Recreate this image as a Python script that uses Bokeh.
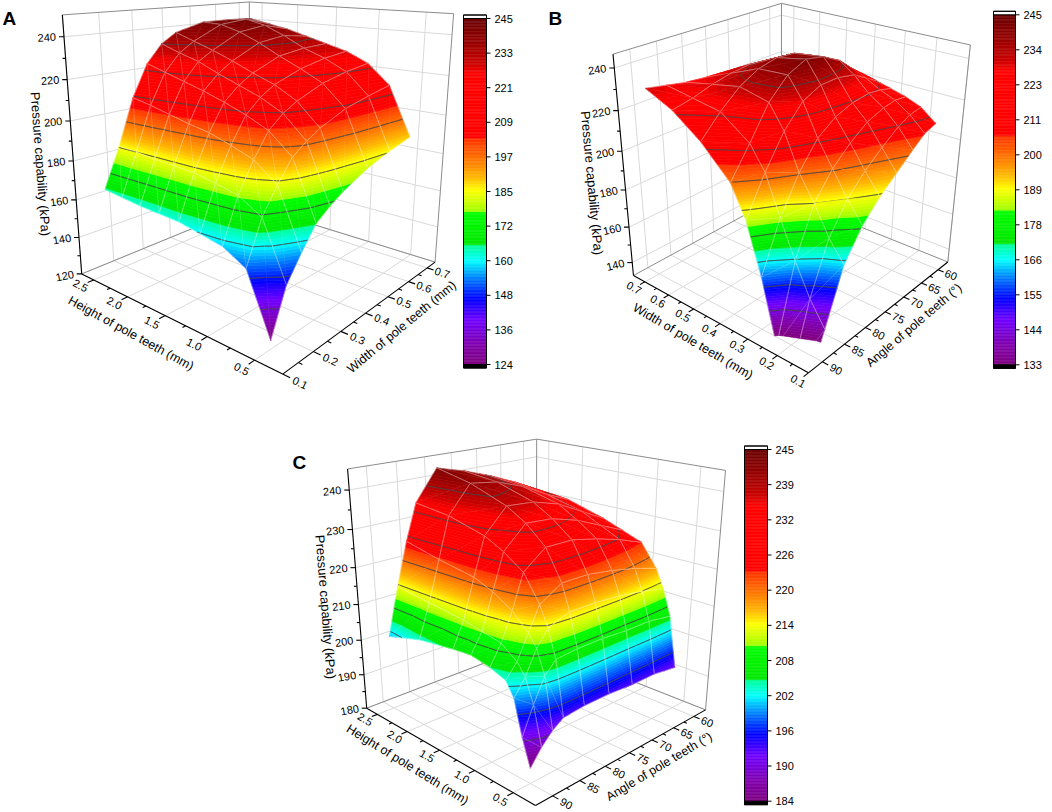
import math
import numpy as np
from bokeh.plotting import figure
from bokeh.models import Range1d, ColumnDataSource
from bokeh.core.properties import value
from bokeh.embed import file_html
from bokeh.resources import INLINE

# ======================= DATA =======================
# Panel A : pressure capability (kPa) vs height (columns) and width (rows)
A_height = [0.5, 0.75, 1.0, 1.25, 1.5, 1.75, 2.0, 2.25, 2.5]
A_width = [0.15, 0.2, 0.25, 0.3, 0.35, 0.4, 0.5, 0.6, 0.7]
A_pressure = [
    [124, 152, 158, 160, 162, 162.5, 163, 164, 165],
    [145, 171.5, 178, 180.5, 182.5, 183, 183.5, 184.5, 185],
    [156, 183, 191.5, 195.5, 199, 201, 203.5, 206, 208],
    [166, 193, 202.5, 207.5, 211.5, 215, 218, 221, 224],
    [171, 198, 208.5, 214, 218, 222, 226.5, 229.5, 233],
    [175, 202, 212.5, 218.5, 222.5, 227, 231, 234.5, 238],
    [181, 207.5, 218, 223.5, 228.5, 234, 238.5, 241.5, 242],
    [185, 210.5, 221, 226.5, 230.5, 236, 240.5, 243, 242],
    [188, 213, 223, 228, 231, 234, 237, 239, 241],
]

# Panel B : pressure capability vs width (rows) and angle (columns)
B_width = [0.15, 0.2, 0.25, 0.3, 0.35, 0.4, 0.5, 0.6, 0.7]
B_angle = [60, 63, 66, 70, 74, 78, 82, 86, 90]
B_pressure = [
    [209, 207, 202, 195, 188, 179, 165, 138, 112],
    [215, 214, 211, 205, 198, 189, 175, 150, 116],
    [218, 219, 218, 215, 209, 201, 189, 166, 128],
    [220, 222, 223, 222, 219, 213, 201, 184, 160],
    [222, 226, 230, 232, 232, 228, 218, 203, 185],
    [223, 229, 235, 240, 242, 238, 229, 214, 200],
    [222, 228, 234, 238, 239, 237, 232, 224, 214],
    [220, 224, 228, 231, 232, 231, 229, 226, 224],
    [218, 220, 222, 223, 224, 225, 226, 228, 230],
]

# Panel C : pressure capability vs height (rows) and angle (columns)
C_height = [0.5, 0.6, 0.7, 0.8, 1.0, 1.25, 1.5, 2.0, 2.5]
C_angle = [60, 65, 70, 75, 80, 84, 86, 88, 90]
C_pressure = [
    [192, 193, 193, 193.5, 193.5, 193, 191, 188, 184],
    [206, 207, 207, 207.5, 207.5, 207, 204, 198, 191],
    [213, 214.5, 215.5, 216, 216, 214, 210, 204, 200],
    [218, 220, 221.5, 222.5, 222.5, 219, 213, 207, 203.5],
    [224, 226.5, 228.5, 230, 230, 225.5, 217, 210, 205],
    [226, 229, 232, 234, 234.5, 229, 220, 211, 206],
    [228, 231.5, 235, 237, 237.5, 231.5, 222, 212, 205.5],
    [231, 234, 237.5, 240, 241, 234, 223.5, 213, 204],
    [232, 235.5, 238.5, 241, 243, 235, 225.5, 214, 201],
]

# colour scales and tick labels
A_color_range = [124, 245]
B_color_range = [133, 245]
C_color_range = [184, 245]
A_cbar_labels = ["124", "136", "148", "160", "172", "185", "197", "209", "221", "233", "245"]
B_cbar_labels = ["133", "144", "155", "166", "178", "189", "200", "211", "223", "234", "245"]
C_cbar_labels = ["184", "190", "196", "202", "208", "214", "220", "226", "232", "239", "245"]

height_ticks = [0.5, 1.0, 1.5, 2.0, 2.5]
height_tick_labels = ["0.5", "1.0", "1.5", "2.0", "2.5"]
width_ticks = [0.1, 0.2, 0.3, 0.4, 0.5, 0.6, 0.7]
width_tick_labels = ["0.1", "0.2", "0.3", "0.4", "0.5", "0.6", "0.7"]
angle_ticks = [60, 65, 70, 75, 80, 85, 90]
angle_tick_labels = ["60", "65", "70", "75", "80", "85", "90"]
A_z_ticks = [120, 140, 160, 180, 200, 220, 240]
B_z_ticks = [140, 160, 180, 200, 220, 240]
C_z_ticks = [180, 190, 200, 210, 220, 230, 240]

# ======================= STYLE =======================
FONT = "Liberation Sans"
CM_POS = [0.0, 0.06, 0.13, 0.19, 0.25, 0.30, 0.345, 0.345, 0.44, 0.44, 0.47, 0.505,
          0.54, 0.585, 0.655, 0.655, 0.84, 0.87, 0.93, 1.0]
CM_COL = ["#7f007f", "#8000b0", "#7000ff", "#0000ff", "#0080ff", "#00ffff", "#00ff99",
          "#00e600", "#00ff00", "#99ff00", "#ccff00", "#ffff00", "#ffbb00", "#ff8000",
          "#ff3300", "#ff0000", "#ff0000", "#cc0000", "#990000", "#6b0000"]


def _rgb(h):
    h = h.lstrip("#")
    return tuple(int(h[i:i + 2], 16) for i in (0, 2, 4))


def cmap_hex(f):
    f = min(max(f, 0.0), 1.0)
    for i in range(len(CM_POS) - 1):
        a, b = CM_POS[i], CM_POS[i + 1]
        if b > a and a <= f <= b:
            t = (f - a) / (b - a)
            ca, cb = _rgb(CM_COL[i]), _rgb(CM_COL[i + 1])
            c = [int(round(ca[k] + t * (cb[k] - ca[k]))) for k in range(3)]
            return "#%02x%02x%02x" % tuple(c)
    return CM_COL[-1]


F_EDGES = sorted(set([round(float(v), 6) for v in np.linspace(0, 1, 101)] + [0.345, 0.44, 0.655]))


def dlt(corners):
    P3 = np.array([[0, 0, 0], [1, 0, 0], [0, 1, 0], [1, 1, 0], [1, 0, 1], [0, 1, 1], [1, 1, 1]], float)
    P2 = np.array(corners, float)
    m = P2.mean(0)
    s = math.sqrt(2) / np.mean(np.linalg.norm(P2 - m, axis=1))
    T = np.array([[s, 0, -s * m[0]], [0, s, -s * m[1]], [0, 0, 1]])
    q = (np.c_[P2, np.ones(len(P2))] @ T.T)[:, :2]
    rows = []
    for (X, Y, Z), (u, v) in zip(P3, q):
        rows.append([X, Y, Z, 1, 0, 0, 0, 0, -u * X, -u * Y, -u * Z, -u])
        rows.append([0, 0, 0, 0, X, Y, Z, 1, -v * X, -v * Y, -v * Z, -v])
    _, _, Vt = np.linalg.svd(np.array(rows))
    P = np.linalg.inv(T) @ Vt[-1].reshape(3, 4)
    if P[2] @ np.array([0, 0, 0, 1.0]) < 0:
        P = -P
    return P


def clip_poly(poly, val, above):
    out = []
    n = len(poly)
    for i in range(n):
        a = poly[i]
        b = poly[(i + 1) % n]
        ia = (a[3] >= val) if above else (a[3] <= val)
        ib = (b[3] >= val) if above else (b[3] <= val)
        if ia:
            out.append(a)
        if ia != ib:
            t = (val - a[3]) / (b[3] - a[3])
            out.append(a + t * (b - a))
    return out


def ang(a, b):
    return math.atan2(b[1] - a[1], b[0] - a[0])


PW, PH = 1052, 812
p = figure(width=PW, height=PH, x_range=Range1d(0, PW), y_range=Range1d(-PH, 0),
           output_backend="svg", toolbar_location=None, min_border=0,
           x_axis_location=None, y_axis_location=None)
p.outline_line_color = None
p.background_fill_color = "white"
p.xgrid.grid_line_color = None
p.ygrid.grid_line_color = None

TXT = {"tick": [], "ztick": [], "title": [], "ztitle": [], "cb": [], "letter": []}


def add_text(kind, x, y, text, angle=0.0, align="center", baseline="middle"):
    if kind in ("tick", "title"):
        y = max(y, -(PH - 7))
    TXT[kind].append((x, y, text, angle, align, baseline))


def draw_panel(cfg):
    P = dlt(cfg["corners"])
    x0, x1 = cfg["xr"]
    y0, y1 = cfg["yr"]
    z0, z1 = cfg["zr"]

    def nx(v):
        return (v - x0) / (x1 - x0)

    def ny(v):
        return (v - y0) / (y1 - y0)

    def nz(v):
        return (v - z0) / (z1 - z0)

    def S(X, Y, Z):
        h = P @ np.array([X, Y, Z, 1.0])
        return (h[0] / h[2], -h[1] / h[2])

    def W(X, Y, Z):
        return (P @ np.array([X, Y, Z, 1.0]))[2]

    sgn = 1.0 if W(1, 1, 0) > W(0, 0, 0) else -1.0

    def seg3(a, b, lx, ly):
        pa, pb = S(*a), S(*b)
        lx.append([pa[0], pb[0]])
        ly.append([pa[1], pb[1]])

    # ---- back walls & floor grids ----
    gx, gy = [], []
    for t in cfg["xt"]:
        X = nx(t)
        if 0 <= X <= 1:
            seg3((X, 0, 0), (X, 1, 0), gx, gy)
            seg3((X, 1, 0), (X, 1, 1), gx, gy)
    for t in cfg["yt"]:
        Y = ny(t)
        if 0 <= Y <= 1:
            seg3((0, Y, 0), (1, Y, 0), gx, gy)
            seg3((1, Y, 0), (1, Y, 1), gx, gy)
    for t in cfg["zt"]:
        Z = nz(t)
        if 0 <= Z <= 1:
            seg3((1, 0, Z), (1, 1, Z), gx, gy)
            seg3((0, 1, Z), (1, 1, Z), gx, gy)
    p.multi_line(gx, gy, line_color="#d9d9d9", line_width=1)
    bx, by = [], []
    for a, b in [((1, 0, 1), (1, 1, 1)), ((1, 1, 1), (0, 1, 1)), ((1, 1, 0), (1, 1, 1)),
                 ((0, 1, 0), (0, 1, 1)), ((1, 0, 0), (1, 1, 0)), ((1, 1, 0), (0, 1, 0))]:
        seg3(a, b, bx, by)
    p.multi_line(bx, by, line_color="#8c8c8c", line_width=1)

    # ---- surface ----
    Xg, Yg, Zg = cfg["X"], cfg["Y"], cfg["Z"]
    nr, nc = len(Zg), len(Zg[0])
    V = [[np.array([nx(Xg[r][c]), ny(Yg[r][c]), nz(Zg[r][c]), float(Zg[r][c])])
          for c in range(nc)] for r in range(nr)]
    tris = []
    for r in range(nr - 1):
        for c in range(nc - 1):
            a, b, cc, d = V[r][c], V[r + 1][c], V[r + 1][c + 1], V[r][c + 1]
            tris.append(((a, b, cc), [(a, b), (b, cc), (a, cc)]))
            tris.append(((a, cc, d), [(cc, d), (d, a)]))

    def depth(t):
        cen = (t[0][0] + t[0][1] + t[0][2]) / 3.0
        return sgn * W(cen[0], cen[1], cen[2])

    tris.sort(key=lambda t: -depth(t))
    c0, c1 = cfg["crange"]
    bands = []
    for i in range(len(F_EDGES) - 1):
        bands.append((c0 + F_EDGES[i] * (c1 - c0), c0 + F_EDGES[i + 1] * (c1 - c0),
                      cmap_hex(0.5 * (F_EDGES[i] + F_EDGES[i + 1]))))
    if z0 < c0:
        bands.insert(0, (z0, c0, cmap_hex(0.0)))
    if z1 > c1:
        bands.append((c1, z1, cmap_hex(1.0)))
    bands = [(max(lo, z0), hi, col) for lo, hi, col in bands if hi > z0]
    # contour levels (tiny offset so that a level never sits exactly on a vertex)
    levels = [c0 + k * (c1 - c0) / 10.0 + 1e-6 for k in range(1, 10)]

    D = {"xs": [], "ys": [], "fc": [], "fa": [], "lc": [], "la": [], "lw": []}

    def add(pts, fc, fa, lc, la, lw):
        D["xs"].append([q[0] for q in pts])
        D["ys"].append([q[1] for q in pts])
        D["fc"].append(fc)
        D["fa"].append(fa)
        D["lc"].append(lc)
        D["la"].append(la)
        D["lw"].append(lw)

    for tri, medges in tris:
        zs = [v[3] for v in tri]
        tmin, tmax = min(zs), max(zs)
        for lo, hi, col in bands:
            if hi <= tmin or lo >= tmax:
                continue
            poly = list(tri)
            if lo > tmin:
                poly = clip_poly(poly, lo, True)
            if len(poly) >= 3 and hi < tmax:
                poly = clip_poly(poly, hi, False)
            if len(poly) < 3:
                continue
            add([S(v[0], v[1], v[2]) for v in poly], col, 1.0, col, 1.0, 0.6)
        for L in levels:
            if L < z0 or L <= tmin or L >= tmax:
                continue
            pts = []
            for i in range(3):
                a, b = tri[i], tri[(i + 1) % 3]
                if (a[3] - L) * (b[3] - L) < 0:
                    t = (L - a[3]) / (b[3] - a[3])
                    qv = a + t * (b - a)
                    pts.append(S(qv[0], qv[1], qv[2]))
            if len(pts) == 2:
                add(pts, "#000000", 0.0, "#444444", 0.65, 0.9)
        for k, (a, b) in enumerate(medges):
            if a[3] < z0 and b[3] < z0:
                continue
            if a[3] < z0 or b[3] < z0:
                t = (z0 - a[3]) / (b[3] - a[3])
                qv = a + t * (b - a)
                if a[3] < z0:
                    a = qv
                else:
                    b = qv
            alpha = 0.28 if k < 2 else 0.14
            add([S(a[0], a[1], a[2]), S(b[0], b[1], b[2])], "#000000", 0.0, "#ffffff", alpha, 0.7)

    p.patches(xs="xs", ys="ys", fill_color="fc", fill_alpha="fa", line_color="lc",
              line_alpha="la", line_width="lw", source=ColumnDataSource(D))

    # ---- axes ----
    ax, ay = [], []
    seg3((0, 0, 0), (1, 0, 0), ax, ay)
    seg3((0, 0, 0), (0, 1, 0), ax, ay)
    seg3((1, 0, 0), (1, 0, 1), ax, ay)
    xt, yt, zt = cfg["xt"], cfg["yt"], cfg["zt"]
    for i, t in enumerate(xt):
        X = nx(t)
        if 0 <= X <= 1:
            seg3((X, 0, 0), (X, -0.028, 0), ax, ay)
        if i + 1 < len(xt):
            Xm = nx(0.5 * (t + xt[i + 1]))
            seg3((Xm, 0, 0), (Xm, -0.015, 0), ax, ay)
    for i, t in enumerate(yt):
        Y = ny(t)
        if 0 <= Y <= 1:
            seg3((0, Y, 0), (-0.028, Y, 0), ax, ay)
        if i + 1 < len(yt):
            Ym = ny(0.5 * (t + yt[i + 1]))
            seg3((0, Ym, 0), (-0.015, Ym, 0), ax, ay)
    for i, t in enumerate(zt):
        q = S(1, 0, nz(t))
        ax.append([q[0] - 5, q[0]])
        ay.append([q[1], q[1]])
        if i + 1 < len(zt):
            q = S(1, 0, nz(0.5 * (t + zt[i + 1])))
            ax.append([q[0] - 3, q[0]])
            ay.append([q[1], q[1]])
    p.multi_line(ax, ay, line_color="black", line_width=1.1)

    # ---- labels ----
    for t, lab in zip(xt, cfg["xtl"]):
        X = nx(t)
        pos = S(X, -0.06, 0)
        a = ang(S(X + 0.05, -0.06, 0), S(X - 0.05, -0.06, 0))
        add_text("tick", pos[0], pos[1], lab, a)
    for t, lab in zip(yt, cfg["ytl"]):
        Y = ny(t)
        pos = S(-0.065, Y, 0)
        a = ang(S(-0.015, Y, 0), S(-0.115, Y, 0))
        add_text("tick", pos[0], pos[1], lab, a)
    for t in zt:
        Z = nz(t)
        q = S(1, 0, Z)
        a = 0.5 * ang(q, S(1, 0.1, Z))
        add_text("ztick", q[0] - 8, q[1], str(t), a, "right")
    Xm = nx(sum(xt) / len(xt))
    pos = S(Xm, -0.15, 0)
    add_text("title", pos[0], pos[1], cfg["xtitle"], ang(S(Xm + 0.05, -0.15, 0), S(Xm - 0.05, -0.15, 0)))
    Ym = ny(sum(yt) / len(yt))
    pos = S(-0.14, Ym, 0)
    add_text("title", pos[0], pos[1], cfg["ytitle"], ang(S(-0.14, Ym - 0.05, 0), S(-0.14, Ym + 0.05, 0)))
    mid = S(1, 0, 0.45)
    add_text("ztitle", mid[0] - 33, mid[1], "Pressure capability (kPa)", ang(S(1, 0, 1), S(1, 0, 0)))

    # ---- colour bar ----
    bxl, bxr, ytop, ybot = cfg["cbar"]
    nb = 240
    qb = {"l": [], "r": [], "t": [], "b": [], "c": []}
    for i in range(nb):
        f0, f1 = i / nb, (i + 1) / nb
        qb["l"].append(bxl)
        qb["r"].append(bxr)
        qb["b"].append(-(ybot - f0 * (ybot - ytop)))
        qb["t"].append(-(ybot - f1 * (ybot - ytop)))
        qb["c"].append(cmap_hex(0.5 * (f0 + f1)))
    p.quad(left=qb["l"], right=qb["r"], top=qb["t"], bottom=qb["b"], fill_color=qb["c"],
           line_color=qb["c"], line_width=0.5)
    cap = 3.5
    p.quad(left=[bxl], right=[bxr], top=[-(ytop - cap)], bottom=[-ytop], fill_color="white",
           line_color="black", line_width=1)
    p.quad(left=[bxl], right=[bxr], top=[-ybot], bottom=[-(ybot + cap)], fill_color="black",
           line_color="black", line_width=1)
    p.quad(left=[bxl], right=[bxr], top=[-(ytop - cap)], bottom=[-(ybot + cap)], fill_alpha=0,
           line_color="black", line_width=1)
    tx, ty = [], []
    for k, lab in enumerate(cfg["cbl"]):
        yy = ybot - k / 10.0 * (ybot - ytop)
        tx.append([bxr, bxr + 4])
        ty.append([-yy, -yy])
        add_text("cb", bxr + 8, -yy, lab, 0.0, "left")
    p.multi_line(tx, ty, line_color="black", line_width=1)
    lx, ly, lt = cfg["letter"]
    add_text("letter", lx, -ly, lt, 0.0, "left", "alphabetic")


def grid_rows(rows, cols, row_is_x):
    X = [[(rv if row_is_x else cv) for cv in cols] for rv in rows]
    Y = [[(cv if row_is_x else rv) for cv in cols] for rv in rows]
    return X, Y


AX, AY = grid_rows(A_width, A_height, False)
BX, BY = grid_rows(B_width, B_angle, True)
CX, CY = grid_rows(C_height, C_angle, True)

panels = [
    dict(corners=[(281.7, 373.3), (81.7, 274), (435, 261.7), (249, 204), (61.7, 14), (453, 13.3), (249, 1.7)],
         xr=(0.23, 2.69), yr=(0.1, 0.745), zr=(120, 250), X=AX, Y=AY, Z=A_pressure,
         crange=A_color_range, cbar=(463, 486, 18, 364), cbl=A_cbar_labels,
         xt=height_ticks, xtl=height_tick_labels, yt=width_ticks, ytl=width_tick_labels, zt=A_z_ticks,
         xtitle="Height of pole teeth (mm)", ytitle="Width of pole teeth (mm)", letter=(2, 18, "A")),
    dict(corners=[(807.3, 372.7), (633.3, 275), (947.7, 260.7), (780.7, 195), (612.7, 53.3), (970, 45), (780.7, 2.7)],
         xr=(0.1, 0.75), yr=(93, 57), zr=(132.5, 246.3), X=BX, Y=BY, Z=B_pressure,
         crange=B_color_range, cbar=(993, 1015, 14.3, 364.3), cbl=B_cbar_labels,
         xt=width_ticks, xtl=width_tick_labels, yt=angle_ticks, ytl=angle_tick_labels, zt=B_z_ticks,
         xtitle="Width of pole teeth (mm)", ytitle="Angle of pole teeth (°)", letter=(548, 18, "B")),
    dict(corners=[(535, 807.3), (366, 705), (705, 706.7), (536, 645.5), (347.3, 469.3), (725, 470.7), (536, 437.3)],
         xr=(0.23, 2.69), yr=(93, 57), zr=(180, 245.2), X=CX, Y=CY, Z=C_pressure,
         crange=C_color_range, cbar=(744, 767, 449, 800.7), cbl=C_cbar_labels,
         xt=height_ticks, xtl=height_tick_labels, yt=angle_ticks, ytl=angle_tick_labels, zt=C_z_ticks,
         xtitle="Height of pole teeth (mm)", ytitle="Angle of pole teeth (°)", letter=(292, 462, "C")),
]

for cfg in panels:
    draw_panel(cfg)

STY = {"tick": ("11px", "normal"), "ztick": ("11px", "normal"), "title": ("12.5px", "normal"),
       "ztitle": ("13px", "normal"), "cb": ("11px", "normal"), "letter": ("19px", "bold")}
for kind, items in TXT.items():
    if not items:
        continue
    size, style = STY[kind]
    groups = {}
    for it in items:
        groups.setdefault((it[4], it[5]), []).append(it)
    for (al, bl), its in groups.items():
        p.text(x=[i[0] for i in its], y=[i[1] for i in its], text=[i[2] for i in its],
               angle=[i[3] for i in its], text_font=value(FONT), text_font_size=size,
               text_font_style=style, text_align=al, text_baseline=bl, text_color="black")

open("out.html", "w").write(file_html(p, INLINE))
